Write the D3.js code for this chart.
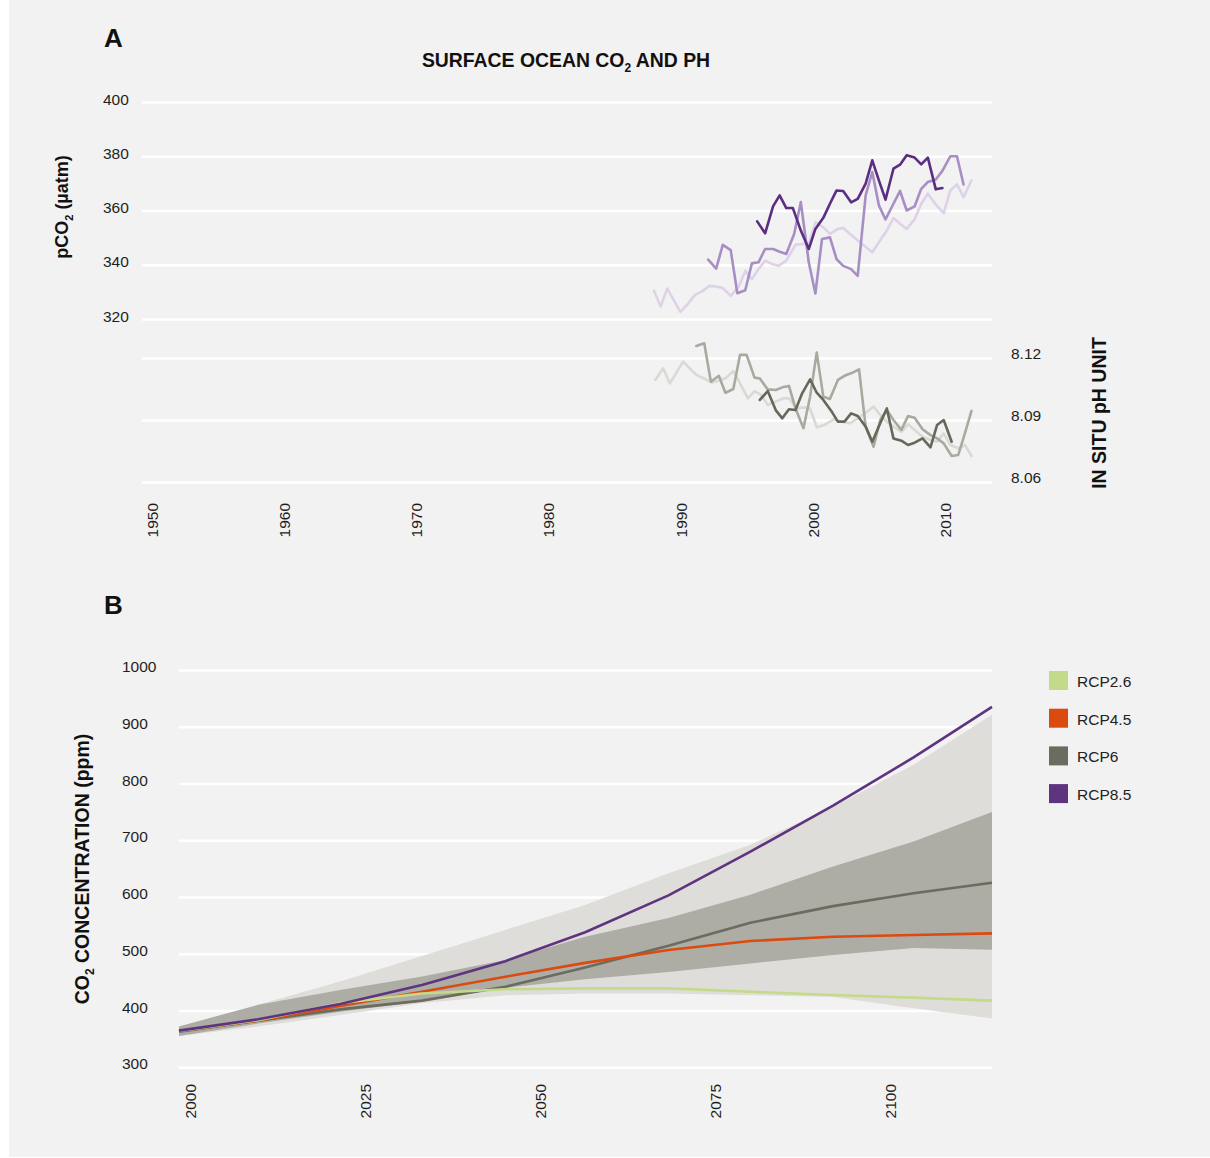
<!DOCTYPE html>
<html><head><meta charset="utf-8">
<script src="https://cdn.jsdelivr.net/npm/d3@7"></script>
<style>
body{margin:0;background:#fff;}
svg{display:block;font-family:"Liberation Sans",Arial,Helvetica,sans-serif;}
</style></head><body>
<svg id="c" width="1210" height="1158"></svg>
<script>
// ---------- Panel A data: surface ocean pCO2 (µatm) ----------
const pco2LightYears = [1988.7,1989.2,1989.7,1990.7,1991.3,1991.8,1992.3,1992.9,1993.4,1993.9,1994.5,1995.1,1995.6,1996.1,1996.6,1997.1,1997.6,1998.1,1998.7,1999.4,2000.0,2000.4,2000.9,2001.5,2002.0,2002.6,2003.0,2003.5,2004.1,2005.2,2005.7,2006.3,2006.8,2007.3,2007.8,2008.4,2008.9,2009.4,2010.0,2010.6,2011.1,2011.6,2012.1,2012.7];
const pco2LightValues = [330.4,324.6,331.2,322.6,325.8,328.9,330.1,332.2,332.0,331.4,328.5,331.9,337.8,334.7,338.4,341.5,340.3,339.6,341.5,347.4,347.7,347.7,355.7,353.8,351.4,353.2,353.6,351.4,348.9,344.6,348.3,352.6,357.2,355.1,353.2,356.7,362.5,366.2,362.2,359.0,367.4,369.6,364.9,371.1];
const pco2MidYears = [1992.8,1993.4,1993.9,1994.5,1995.0,1995.6,1996.1,1996.6,1997.1,1997.7,1998.2,1998.7,1999.3,1999.8,2000.4,2000.9,2001.4,2002.0,2002.5,2003.0,2003.6,2004.1,2004.7,2005.2,2005.7,2006.2,2006.8,2007.3,2007.8,2008.4,2008.9,2009.4,2010.0,2010.5,2011.1,2011.6,2012.1];
const pco2MidValues = [341.9,338.6,347.3,345.4,329.5,330.6,340.5,340.9,345.8,345.8,344.8,344.0,351.4,363.1,340.9,329.4,349.5,350.1,342.1,339.6,338.4,335.9,365.6,374.2,361.9,356.7,362.5,367.2,360.0,361.5,368.0,370.5,371.4,374.6,380.0,380.0,369.6];
const pco2DarkYears = [1996.5,1997.1,1997.7,1998.2,1998.7,1999.2,1999.8,2000.4,2000.9,2001.5,2002.0,2002.5,2003.0,2003.6,2004.1,2004.7,2005.2,2005.7,2006.2,2006.8,2007.3,2007.8,2008.4,2008.9,2009.4,2010.0,2010.5];
const pco2DarkValues = [356.0,351.6,361.5,365.6,360.9,360.9,352.6,345.8,353.2,357.3,362.5,367.4,367.2,363.0,364.3,369.9,378.5,371.1,364.0,375.4,376.9,380.4,379.5,377.0,379.5,367.8,368.3];

// ---------- Panel A data: in situ pH ----------
const phLightYears = [1988.8,1989.4,1989.9,1990.9,1991.9,1992.6,1993.1,1993.6,1994.1,1994.7,1995.2,1995.8,1996.3,1996.8,1997.3,1997.9,1998.5,1998.9,1999.5,2000.0,2000.5,2001.0,2001.6,2002.3,2002.9,2003.5,2004.1,2004.8,2005.3,2005.8,2006.3,2006.8,2007.4,2007.9,2008.4,2009.0,2009.6,2010.1,2010.6,2011.1,2011.7,2012.2,2012.7];
const phLightValues = [8.1094,8.1150,8.1077,8.1182,8.1118,8.1097,8.1081,8.1090,8.1102,8.1137,8.1077,8.1005,8.1040,8.1021,8.0973,8.0989,8.1005,8.1005,8.0956,8.0961,8.0956,8.0865,8.0876,8.0903,8.0892,8.0884,8.0908,8.0940,8.0965,8.0924,8.0892,8.0868,8.0843,8.0879,8.0852,8.0819,8.0803,8.0795,8.0835,8.0779,8.0763,8.0779,8.0726];
const phMidYears = [1991.9,1992.5,1993.0,1993.6,1994.1,1994.7,1995.2,1995.7,1996.3,1996.7,1997.3,1997.9,1998.4,1998.9,1999.4,2000.0,2000.5,2001.0,2001.5,2002.0,2002.6,2003.1,2003.6,2004.2,2004.7,2005.3,2005.8,2006.3,2006.8,2007.4,2007.9,2008.4,2009.0,2009.6,2010.1,2010.6,2011.2,2011.7,2012.2,2012.7];
const phMidValues = [8.1258,8.1271,8.1085,8.1114,8.1032,8.1050,8.1215,8.1215,8.1105,8.1101,8.1048,8.1045,8.1058,8.1065,8.0956,8.0860,8.1013,8.1226,8.1013,8.1002,8.1094,8.1114,8.1126,8.1145,8.0868,8.0771,8.0900,8.0948,8.0900,8.0852,8.0919,8.0911,8.0855,8.0827,8.0811,8.0787,8.0726,8.0731,8.0835,8.0944];
const phDarkYears = [1996.7,1997.3,1997.9,1998.4,1998.9,1999.4,1999.9,2000.5,2001.0,2001.5,2002.1,2002.6,2003.1,2003.6,2004.1,2004.7,2005.2,2005.8,2006.3,2006.8,2007.4,2007.9,2008.4,2009.0,2009.6,2010.1,2010.6,2011.2];
const phDarkValues = [8.0997,8.1040,8.0948,8.0908,8.0952,8.0948,8.1029,8.1097,8.1032,8.0997,8.0944,8.0892,8.0892,8.0932,8.0919,8.0868,8.0795,8.0884,8.0956,8.0811,8.0800,8.0779,8.0790,8.0811,8.0768,8.0876,8.0900,8.0795];

const pco2Ticks = [320,340,360,380,400];
const phTicks = [8.06,8.09,8.12];
const yearTicksA = [1950,1960,1970,1980,1990,2000,2010];

// ---------- Panel B data: CO2 concentration (ppm) ----------
const rcpYears = [2000,2011.3,2023.0,2034.7,2046.6,2058.0,2069.9,2081.6,2093.4,2104.9,2116.1];
const rcp26 = [364,383,413,430,437.5,439,439,433,427.4,422.7,417.4];
const rcp45 = [364,382,408,433,459.6,484,506.7,522.6,530,533,536];
const rcp60 = [362.7,382,402,417.5,442,476,514,554.8,584,606.6,625.3];
const rcp85 = [364.6,384.6,411.6,445,487,538,603,680,761,846,935];
const outerLow = [355,372,392,413,427,430,430,427,424,404,386];
const outerHigh = [372,410,451,496,542,586,642,692,759,833,921];
const innerLow = [355,377,398,416,440,455,468,483,498,510,507];
const innerHigh = [372,410,436,460,489,530,563,604,654,698,750];
const concTicks = [300,400,500,600,700,800,900,1000];
const yearTicksB = [2000,2025,2050,2075,2100];
const rcpNames = ["RCP2.6","RCP4.5","RCP6","RCP8.5"];

// ---------- styles ----------
const colLight = "#ddd2e8", colMid = "#a78ec4", colDark = "#5b2e83";
const phLight = "#dad9d3", phMid = "#aaa99f", phDark = "#66685a";
const rcpColors = ["#c3da8a","#db4a0f","#6a6c5f","#5e3480"];
const textCol = "#1e1e1e";

const svg = d3.select("#c");
svg.append("rect").attr("x",9).attr("y",0).attr("width",1201).attr("height",1157).attr("fill","#f2f2f2");

const zip = (xs, ys) => xs.map((x,i)=>({x, y: ys[i]}));

// ================= PANEL A =================
const xA = d3.scaleLinear().domain([1950, 2014.25]).range([142, 992]);
const yA = d3.scaleLinear().domain([320, 400]).range([319, 102]);
const yP = d3.scaleLinear().domain([8.06, 8.12]).range([482, 358]);

// pCO2 grid + labels
const axA = svg.append("g").attr("transform","translate(142,0)")
  .call(d3.axisLeft(yA).tickValues(pco2Ticks).tickSize(-(992-142)).tickFormat(d3.format("d")));
axA.select(".domain").remove();
axA.selectAll(".tick line").attr("stroke","#fff").attr("stroke-width",2.5);
axA.selectAll(".tick text").attr("x",-39).attr("dy",null).attr("y",2)
  .attr("text-anchor","start").attr("fill",textCol).style("font-size","15.5px").style("font-family","Liberation Sans, Arial, sans-serif");

// pH grid + labels
const axP = svg.append("g").attr("transform","translate(992,0)")
  .call(d3.axisRight(yP).tickValues(phTicks).tickSize(-(992-142)).tickFormat(d3.format(".2f")));
axP.select(".domain").remove();
axP.selectAll(".tick line").attr("stroke","#fff").attr("stroke-width",2.5);
axP.selectAll(".tick text").attr("x",19).attr("dy",null).attr("y",0.5)
  .attr("text-anchor","start").attr("fill",textCol).style("font-size","15.5px").style("font-family","Liberation Sans, Arial, sans-serif");

// year labels
const axXA = svg.append("g").attr("transform","translate(0,482)")
  .call(d3.axisBottom(xA).tickValues(yearTicksA).tickSize(0).tickFormat(d3.format("d")));
axXA.select(".domain").remove();
axXA.selectAll(".tick text").attr("y",0).attr("dy",null)
  .attr("transform","translate(15,21) rotate(-90)").attr("text-anchor","end")
  .attr("fill",textCol).style("font-size","15.5px").style("font-family","Liberation Sans, Arial, sans-serif");

const lineA = d3.line().x(d=>xA(d.x)).y(d=>yA(d.y));
const lineP = d3.line().x(d=>xA(d.x)).y(d=>yP(d.y));
const gA = svg.append("g").attr("fill","none").attr("stroke-width",2.6).attr("stroke-linejoin","round").attr("stroke-linecap","round");
gA.append("path").attr("d",lineA(zip(pco2LightYears,pco2LightValues))).attr("stroke",colLight);
gA.append("path").attr("d",lineA(zip(pco2MidYears,pco2MidValues))).attr("stroke",colMid);
gA.append("path").attr("d",lineA(zip(pco2DarkYears,pco2DarkValues))).attr("stroke",colDark);
gA.append("path").attr("d",lineP(zip(phLightYears,phLightValues))).attr("stroke",phLight);
gA.append("path").attr("d",lineP(zip(phMidYears,phMidValues))).attr("stroke",phMid);
gA.append("path").attr("d",lineP(zip(phDarkYears,phDarkValues))).attr("stroke",phDark);

// Panel A texts
svg.append("text").attr("x",104).attr("y",47).attr("fill","#111").style("font-size","26px").style("font-weight","bold").text("A");
const tA = svg.append("text").attr("x",566).attr("y",66.5).attr("text-anchor","middle").attr("fill","#111")
  .style("font-size","19.4px").style("font-weight","bold");
tA.append("tspan").text("SURFACE OCEAN CO");
tA.append("tspan").attr("dy",5).style("font-size","12px").text("2");
tA.append("tspan").attr("dy",-5).text(" AND PH");

const yLabA = svg.append("text").attr("transform","translate(68,207) rotate(-90)").attr("text-anchor","middle")
  .attr("fill","#111").style("font-size","18px").style("font-weight","bold");
yLabA.append("tspan").text("pCO");
yLabA.append("tspan").attr("dy",5).style("font-size","11px").text("2");
yLabA.append("tspan").attr("dy",-5).text(" (µatm)");

svg.append("text").attr("transform","translate(1106,413) rotate(-90)").attr("text-anchor","middle")
  .attr("fill","#111").style("font-size","19.5px").style("font-weight","bold").text("IN SITU pH UNIT");

// ================= PANEL B =================
const xB = d3.scaleLinear().domain([2000, 2116.1]).range([179, 992]);
const yB = d3.scaleLinear().domain([300, 1000]).range([1067.3, 670]);

const axB = svg.append("g").attr("transform","translate(179,0)")
  .call(d3.axisLeft(yB).tickValues(concTicks).tickSize(-(992-179)).tickFormat(d3.format("d")));
axB.select(".domain").remove();
axB.selectAll(".tick line").attr("stroke","#fff").attr("stroke-width",2.5);
axB.selectAll(".tick text").attr("x",-57).attr("dy",null).attr("y",1.5)
  .attr("text-anchor","start").attr("fill",textCol).style("font-size","15.5px").style("font-family","Liberation Sans, Arial, sans-serif");

const axXB = svg.append("g").attr("transform","translate(0,1067)")
  .call(d3.axisBottom(xB).tickValues(yearTicksB).tickSize(0).tickFormat(d3.format("d")));
axXB.select(".domain").remove();
axXB.selectAll(".tick text").attr("y",0).attr("dy",null)
  .attr("transform","translate(16,17) rotate(-90)").attr("text-anchor","end")
  .attr("fill",textCol).style("font-size","15.5px").style("font-family","Liberation Sans, Arial, sans-serif");

const area = (lo, hi) => d3.area().x((d,i)=>xB(rcpYears[i])).y0((d,i)=>yB(lo[i])).y1((d,i)=>yB(hi[i]))(rcpYears);
svg.append("path").attr("d",area(outerLow,outerHigh)).attr("fill","#dfddd9");
svg.append("path").attr("d",area(innerLow,innerHigh)).attr("fill","#aeada5");

const lineB = d3.line().x(d=>xB(d.x)).y(d=>yB(d.y));
const gB = svg.append("g").attr("fill","none").attr("stroke-width",2.6).attr("stroke-linejoin","round");
const rcpSeries = [rcp26, rcp45, rcp60, rcp85];
[2,1,0,3].forEach(i=>{
  gB.append("path").attr("d",lineB(zip(rcpYears,rcpSeries[i]))).attr("stroke",rcpColors[i]);
});

svg.append("text").attr("x",104).attr("y",614).attr("fill","#111").style("font-size","26px").style("font-weight","bold").text("B");

const yLabB = svg.append("text").attr("transform","translate(89,869) rotate(-90)").attr("text-anchor","middle")
  .attr("fill","#111").style("font-size","19.5px").style("font-weight","bold");
yLabB.append("tspan").text("CO");
yLabB.append("tspan").attr("dy",5).style("font-size","12px").text("2");
yLabB.append("tspan").attr("dy",-5).text(" CONCENTRATION (ppm)");

// legend
const lg = svg.append("g");
rcpNames.forEach((n,i)=>{
  const y = 671 + i*37.7;
  lg.append("rect").attr("x",1049).attr("y",y).attr("width",19).attr("height",19).attr("fill",rcpColors[i]);
  lg.append("text").attr("x",1077).attr("y",y+16).attr("fill","#222").style("font-size","15.5px").text(n);
});
</script>
</body></html>
